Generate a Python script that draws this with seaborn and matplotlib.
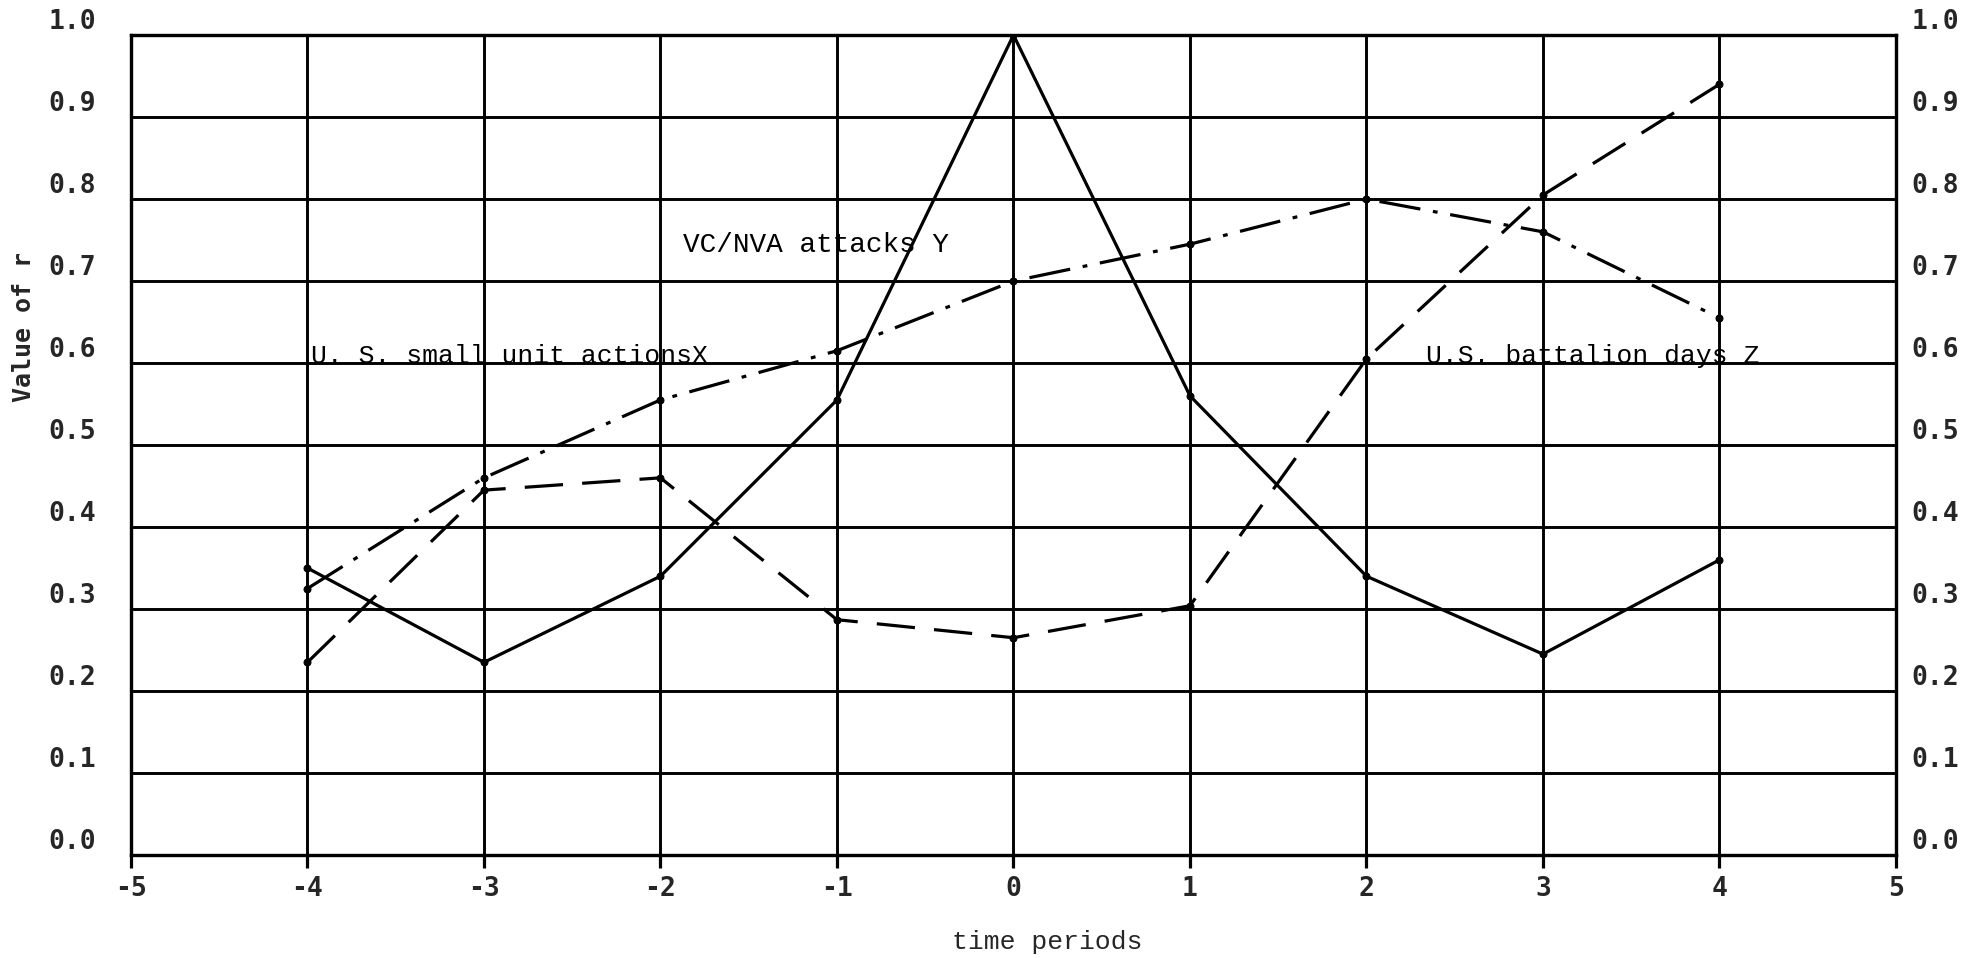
import matplotlib
matplotlib.use("Agg")
import pandas as pd
import matplotlib.pyplot as plt
import seaborn as sns

# time periods (lags) and the three r curves
periods = [-4, -3, -2, -1, 0, 1, 2, 3, 4]
r_solid = [0.35, 0.235, 0.34, 0.555, 1.0, 0.56, 0.34, 0.245, 0.36]
r_dashed = [0.235, 0.445, 0.46, 0.287, 0.265, 0.304, 0.605, 0.805, 0.94]
r_dashdot = [0.325, 0.46, 0.555, 0.615, 0.70, 0.745, 0.80, 0.76, 0.655]

x_ticks = [-5, -4, -3, -2, -1, 0, 1, 2, 3, 4, 5]
y_ticks = [0.0, 0.1, 0.2, 0.3, 0.4, 0.5, 0.6, 0.7, 0.8, 0.9, 1.0]
y_tick_labels = ["0.0", "0.1", "0.2", "0.3", "0.4", "0.5", "0.6", "0.7", "0.8", "0.9", "1.0"]

# curve labels written on the chart: (text, period, r, size)
curve_labels = [
    ("U. S. small unit actionsX", -3.98, 0.6, 19),
    ("VC/NVA attacks Y", -1.87, 0.735, 20),
    ("U.S. battalion days Z", 2.34, 0.6, 19),
]

df = pd.concat([
    pd.DataFrame({"period": periods, "r": r_solid, "series": "solid"}),
    pd.DataFrame({"period": periods, "r": r_dashed, "series": "dashed"}),
    pd.DataFrame({"period": periods, "r": r_dashdot, "series": "dashdot"}),
])

sns.set_theme(style="white")
plt.rcParams["font.family"] = ["DejaVu Sans Mono"]
plt.rcParams["axes.unicode_minus"] = False

fig = plt.figure(figsize=(19.75, 9.58), dpi=100)
ax = fig.add_axes([0.0663, 0.1075, 0.8937, 0.8559])

sns.lineplot(
    data=df, x="period", y="r", style="series",
    dashes={"solid": "", "dashed": (12, 6), "dashdot": (13, 4, 1.5, 4)},
    markers={"solid": "o", "dashed": "o", "dashdot": "o"},
    color="black", lw=2.3, markersize=5, markeredgecolor="black",
    legend=False, ax=ax,
)

ax.set_xlim(-5, 5)
ax.set_ylim(0, 1)
ax.set_xticks(x_ticks)
ax.set_yticks(y_ticks)
ax.set_yticklabels(y_tick_labels)
ax.grid(True, color="black", lw=2.1)
for s in ax.spines.values():
    s.set_color("black")
    s.set_linewidth(2.3)

ax.tick_params(axis="x", bottom=True, direction="out", length=9, width=2.3,
               color="black", pad=6, labelsize=19)
ax.tick_params(axis="y", length=0, pad=25, labelsize=19)
for t in ax.get_xticklabels() + ax.get_yticklabels():
    t.set_fontweight("bold")
for t in ax.get_yticklabels():
    t.set_va("bottom")

ax2 = ax.twinx()
ax2.set_ylim(0, 1)
ax2.set_yticks(y_ticks)
ax2.set_yticklabels(y_tick_labels)
ax2.tick_params(axis="y", length=0, pad=11, labelsize=19)
ax2.grid(False)
for t in ax2.get_yticklabels():
    t.set_fontweight("bold")
    t.set_va("bottom")
for s in ax2.spines.values():
    s.set_color("black")
    s.set_linewidth(2.3)

ax.set_xlabel("time periods", fontsize=19, family="Liberation Mono")
ax.xaxis.set_label_coords(0.519, -0.091)
ax.set_ylabel("Value of r", fontsize=18, fontweight="bold")
ax.yaxis.set_label_coords(-0.054, 0.644)

for text, px, py, size in curve_labels:
    ax.text(px, py, text, fontsize=size, family="Liberation Mono",
            color="black", va="baseline", ha="left")

fig.savefig("out.png", dpi=100, facecolor="white")
